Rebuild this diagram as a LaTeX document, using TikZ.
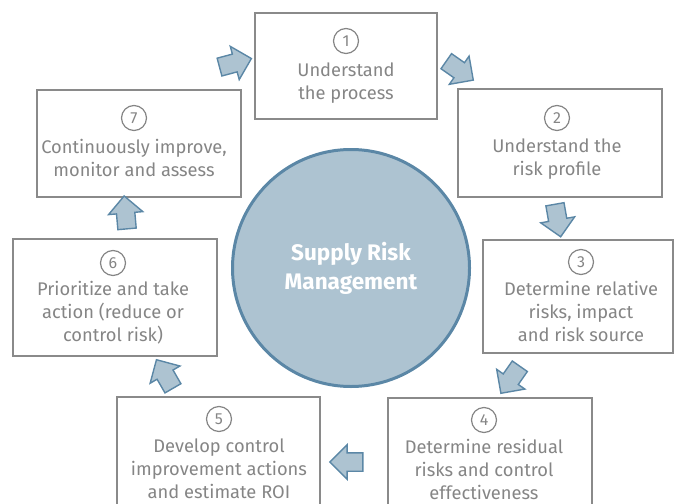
\documentclass[tikz,border=0pt]{standalone}
\usepackage{fontspec}
\setmainfont{Fira Sans}
\usetikzlibrary{shapes.arrows}
\definecolor{boxgray}{HTML}{8A8A8A}
\definecolor{txtgray}{HTML}{858585}
\definecolor{blfill}{HTML}{ADC3D1}
\definecolor{blline}{HTML}{5B87A6}
\tikzset{
  stepbox/.style={draw=boxgray, line width=1.6pt, rectangle, inner sep=0pt},
  numc/.style={draw=txtgray, line width=1.2pt, circle, minimum size=25pt, inner sep=0pt, text=txtgray, font=\fontsize{16}{16}\selectfont},
  steptxt/.style={text=txtgray, align=center, font=\fontsize{18.3}{22.8}\selectfont, inner sep=0pt},
  barrow/.style={single arrow, draw=blline, fill=blfill, line width=1.4pt, inner sep=8.5pt, minimum height=33pt, single arrow head extend=8pt, single arrow tip angle=90},
}
\begin{document}
\begin{tikzpicture}[x=1pt,y=-1pt]
\useasboundingbox (0,0) rectangle (674,503);
\clip (0,0) rectangle (674,503);
% central circle
\node[circle, draw=blline, fill=blfill, line width=3pt, minimum size=237pt, inner sep=0pt,
      text=white, align=center, font=\bfseries\fontsize{22.5}{29}\selectfont] (srm) at (351,268) {Supply Risk\\Management};
% boxes
\node[stepbox, minimum width=182pt, minimum height=106pt] (b1) at (346,66) {};
\node[stepbox, minimum width=204pt, minimum height=108pt] (b2) at (560,143) {};
\node[stepbox, minimum width=190pt, minimum height=113pt] (b3) at (578,296.5) {};
\node[stepbox, minimum width=204pt, minimum height=124pt] (b4) at (490,460) {};
\node[stepbox, minimum width=203pt, minimum height=124pt] (b5) at (218.5,459) {};
\node[stepbox, minimum width=204pt, minimum height=117pt] (b6) at (115,297.5) {};
\node[stepbox, minimum width=204pt, minimum height=107pt] (b7) at (139,143.5) {};
% numbers
\node[numc] (n1) at (346,41) {1};
\node[numc] (n2) at (557,118) {2};
\node[numc] (n3) at (581,262) {3};
\node[numc] (n4) at (484,420) {4};
\node[numc] (n5) at (219,419) {5};
\node[numc] (n6) at (113,263) {6};
\node[numc] (n7) at (134,118) {7};
% texts
\node[steptxt, anchor=north] (t1) at (346,63) {Understand\\the process};
\node[steptxt, anchor=north] (t2) at (557,139) {Understand the\\risk profile};
\node[steptxt, anchor=north] (t3) at (581,281) {Determine relative\\risks, impact\\and risk source};
\node[steptxt, anchor=north] (t4) at (484,439) {Determine residual\\risks and control\\effectiveness};
\node[steptxt, anchor=north] (t5) at (219,439) {Develop control\\improvement actions\\and estimate ROI};
\node[steptxt, anchor=north] (t6) at (113,281) {Prioritize and take\\action (reduce or\\control risk)};
\node[steptxt, anchor=north] (t7) at (134,139) {Continuously improve,\\monitor and assess};
% block arrows
\node[barrow, rotate=15] (a71) at (231,64) {};
\node[barrow, rotate=-35] (a12) at (456,68) {};
\node[barrow, rotate=-80] (a23) at (557,216) {};
\node[barrow, rotate=-125] (a34) at (513,376) {};
\node[barrow, rotate=180] (a45) at (351,462) {};
\node[barrow, rotate=120] (a56) at (167,378) {};
\node[barrow, rotate=95] (a67) at (126,217) {};
\end{tikzpicture}
\end{document}
